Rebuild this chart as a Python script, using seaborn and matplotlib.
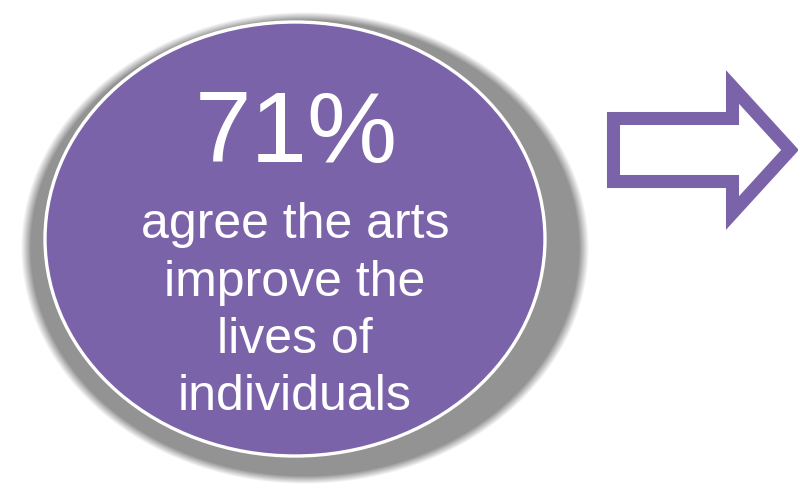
import numpy as np
import seaborn as sns
import matplotlib.pyplot as plt
from matplotlib.patches import Ellipse, Polygon

# values
share = 71
caption_lines = ["agree the arts", "improve the", "lives of", "individuals"]
purple = "#7b63aa"
shadow_grey = np.array([147, 147, 147]) / 255

sns.set_theme(style="white")
plt.rcParams['font.family'] = ['Liberation Sans', 'DejaVu Sans']

W, H = 798, 496
fig = plt.figure(figsize=(W / 100, H / 100), dpi=100)
ax = fig.add_axes([0, 0, 1, 1])
ax.set_xlim(0, W)
ax.set_ylim(H, 0)
ax.axis("off")

# soft grey shadow behind the disc
yy, xx = np.mgrid[0:H, 0:W] + 0.5
cx, cy, rx, ry = 305, 248, 284, 236
r = np.sqrt(((xx - cx) / rx) ** 2 + ((yy - cy) / ry) ** 2)
alpha = np.clip((1 - r) / 0.035, 0, 1)
img = np.zeros((H, W, 4))
img[..., :3] = shadow_grey
img[..., 3] = alpha
ax.imshow(img, extent=(0, W, H, 0), zorder=1, interpolation="bilinear")

# purple disc with thin white rim
ax.add_patch(Ellipse((295, 239), 500, 434, facecolor=purple,
                     edgecolor="white", linewidth=2.4, zorder=2))

ax.text(296, 162, f"{share}%", color="white", fontsize=73,
        ha="center", va="baseline", zorder=3)
for i, line in enumerate(caption_lines):
    ax.text(295, 238 + i * 57.5, line, color="white", fontsize=36,
            ha="center", va="baseline", zorder=3)

# outlined arrow on the right
arrow = [(613.5, 118.5), (732.5, 118.5), (732.5, 87), (790, 150),
         (732.5, 213), (732.5, 181.5), (613.5, 181.5)]
ax.add_patch(Polygon(arrow, closed=True, facecolor="white", edgecolor=purple,
                     linewidth=9.4, joinstyle="miter", zorder=2))

fig.savefig("out.png", dpi=100)
